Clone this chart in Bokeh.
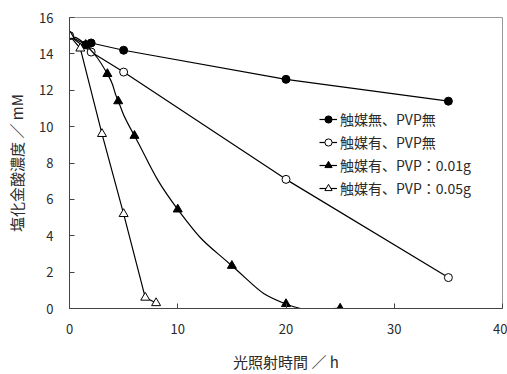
from bokeh.plotting import figure
from bokeh.models import Legend, LegendItem, Range1d, FixedTicker
from bokeh.embed import file_html
from bokeh.resources import INLINE

# data
x1 = [0, 1.5, 2, 5, 20, 35]
y1 = [15.0, 14.5, 14.6, 14.2, 12.6, 11.4]
x2 = [0, 2, 5, 20, 35]
y2 = [15.0, 14.1, 13.0, 7.1, 1.7]
x3 = [0, 1.5, 3.5, 4.5, 6, 10, 15, 20, 25]
y3 = [15.0, 14.5, 12.9, 11.4, 9.5, 5.45, 2.35, 0.25, 0.0]
x4 = [0, 1, 3, 5, 7, 8]
y4 = [15.0, 14.3, 9.6, 5.2, 0.6, 0.3]
labels = ["触媒無、PVP無", "触媒有、PVP無", "触媒有、PVP：0.01g", "触媒有、PVP：0.05g"]
x_ticks = [0, 10, 20, 30, 40]
y_ticks = [0, 2, 4, 6, 8, 10, 12, 14, 16]

FONT = "Noto Sans CJK JP"
TXT = "#2a2a2a"
NAN = float("nan")

p = figure(width=507, height=374, output_backend="svg", toolbar_location=None,
           x_range=Range1d(0, 40), y_range=Range1d(0, 16),
           min_border_left=69, min_border_right=5, min_border_top=17, min_border_bottom=64)
p.grid.visible = False
p.outline_line_color = "#999999"
p.outline_line_width = 1
p.background_fill_color = "white"
p.border_fill_color = "white"

for ax in (p.xaxis[0], p.yaxis[0]):
    ax.axis_line_color = "#444444"
    ax.major_tick_line_color = "#444444"
    ax.major_tick_in = 5
    ax.major_tick_out = 0
    ax.minor_tick_line_color = None
    ax.major_label_text_font = FONT
    ax.major_label_text_font_size = "13px"
    ax.major_label_text_color = TXT
    ax.axis_label_text_font = FONT
    ax.axis_label_text_font_size = "15px"
    ax.axis_label_text_font_style = "normal"
    ax.axis_label_text_color = TXT
p.xaxis.ticker = FixedTicker(ticks=x_ticks)
p.yaxis.ticker = FixedTicker(ticks=y_ticks)
p.xaxis.axis_label = "光照射時間 ／ h"
p.yaxis.axis_label = "塩化金酸濃度 ／ mM"
p.xaxis.major_label_standoff = 15
p.yaxis.major_label_standoff = 16
p.xaxis.axis_label_standoff = 14
p.yaxis.axis_label_standoff = 9

def smooth(xs, ys, t=0.5):
    # Catmull-Rom -> bezier control points
    segs = {"x0": [], "y0": [], "x1": [], "y1": [], "cx0": [], "cy0": [], "cx1": [], "cy1": []}
    n = len(xs)
    for i in range(n - 1):
        xa, ya = (xs[i - 1], ys[i - 1]) if i > 0 else (xs[i], ys[i])
        xd, yd = (xs[i + 2], ys[i + 2]) if i + 2 < n else (xs[i + 1], ys[i + 1])
        segs["x0"].append(xs[i]); segs["y0"].append(ys[i])
        segs["x1"].append(xs[i + 1]); segs["y1"].append(ys[i + 1])
        segs["cx0"].append(xs[i] + (xs[i + 1] - xa) * t / 3)
        segs["cy0"].append(ys[i] + (ys[i + 1] - ya) * t / 3)
        segs["cx1"].append(xs[i + 1] - (xd - xs[i]) * t / 3)
        segs["cy1"].append(ys[i + 1] - (yd - ys[i]) * t / 3)
    return segs

# series 1
p.line(x1, y1, line_color="black", line_width=1.2)
p.scatter(x1, y1, marker="circle", size=8, fill_color="black", line_color="black")
# series 2
p.line(x2, y2, line_color="black", line_width=1.2)
p.scatter(x2, y2, marker="circle", size=8, fill_color="white", line_color="black")
# series 3 (smoothed)
s3 = smooth(x3, y3, t=0.8)
p.bezier(**s3, line_color="black", line_width=1.2)
p.scatter(x3, y3, marker="triangle", size=9, fill_color="black", line_color="black")
# series 4
p.line(x4, y4, line_color="black", line_width=1.2)
p.scatter(x4, y4, marker="triangle", size=9, fill_color="white", line_color="black")

# legend proxies
lg = []
for fill, mk in (("black", "circle"), ("white", "circle"), ("black", "triangle"), ("white", "triangle")):
    ll = p.line([NAN], [NAN], line_color="black", line_width=1.2)
    mm = p.scatter([NAN], [NAN], marker=mk, size=7, fill_color=fill, line_color="black")
    lg.append([ll, mm])

legend = Legend(items=[LegendItem(label=labels[i], renderers=lg[i]) for i in range(4)],
                location=(250, 110), orientation="vertical")
legend.label_text_font = FONT
legend.label_text_font_size = "14px"
legend.label_text_color = TXT
legend.glyph_width = 18
legend.glyph_height = 20
legend.label_height = 20
legend.spacing = 3
legend.padding = 0
legend.margin = 0
legend.label_standoff = 3
legend.border_line_alpha = 0
legend.background_fill_alpha = 0
p.add_layout(legend, "center")

open("out.html", "w").write(file_html(p, INLINE))
